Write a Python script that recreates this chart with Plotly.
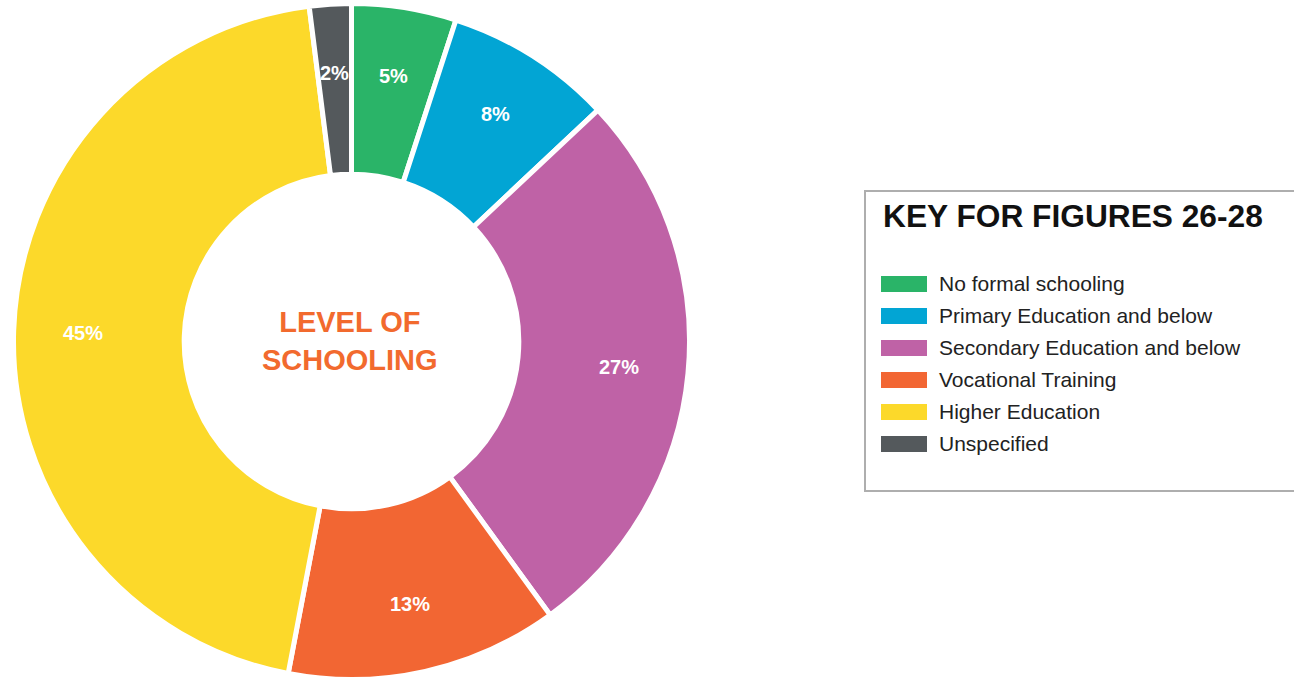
import math
import plotly.graph_objects as go

W, H = 1294, 682

categories = ['No formal schooling', 'Primary Education and below',
              'Secondary Education and below', 'Vocational Training',
              'Higher Education', 'Unspecified']
shares = [5, 8, 27, 13, 45, 2]
colors = ['#2AB468', '#02A5D4', '#BF62A6', '#F26633', '#FCD92A', '#54595C']

legend_title = 'KEY FOR FIGURES 26-28'
center_label = 'LEVEL OF<br>SCHOOLING'

FONT = 'Liberation Sans, Arial, sans-serif'


def px(x):
    return x / W


def py(y):
    return 1 - y / H


# donut geometry in pixels (outer radius includes the white slice border)
cx, cy, r = 351.5, 341.5, 338
label_r = 269
domain = dict(x=[px(cx - r), px(cx + r)], y=[py(cy + r), py(cy - r)])

fig = go.Figure()
fig.add_trace(go.Pie(
    labels=categories,
    values=shares,
    sort=False,
    direction='clockwise',
    rotation=0,
    hole=0.495,
    marker=dict(colors=colors, line=dict(color='white', width=5)),
    textinfo='none',
    domain=domain,
    showlegend=False,
    hoverinfo='label+percent',
))

# percentage labels at the middle angle of each slice
total = sum(shares)
cum = 0
for v in shares:
    mid = (cum + v / 2) / total * 2 * math.pi
    cum += v
    fig.add_annotation(
        x=px(cx + label_r * math.sin(mid)), y=py(cy - label_r * math.cos(mid)),
        xref='paper', yref='paper', xanchor='center', yanchor='middle',
        text=f'{round(100 * v / total)}%', showarrow=False,
        font=dict(family=FONT, size=20, color='white', weight='bold'),
    )

# centre label
fig.add_annotation(
    x=px(350), y=py(341), xref='paper', yref='paper',
    xanchor='center', yanchor='middle',
    text=center_label, showarrow=False,
    font=dict(family=FONT, size=29, color='#F26A2E', weight='bold'),
    align='center',
)

# key box
fig.add_shape(type='rect', xref='paper', yref='paper',
              x0=px(865), x1=px(1310), y0=py(491), y1=py(191),
              line=dict(color='#AEAEAE', width=2), fillcolor='white')
fig.add_annotation(
    x=px(881), y=py(216), xref='paper', yref='paper',
    xanchor='left', yanchor='middle', showarrow=False,
    text=legend_title,
    font=dict(family=FONT, size=31.7, color='#111111', weight='bold'),
)
row_y0, row_gap = 284, 32
for i, (name, col) in enumerate(zip(categories, colors)):
    yc = row_y0 + i * row_gap
    fig.add_shape(type='rect', xref='paper', yref='paper',
                  x0=px(881), x1=px(927), y0=py(yc + 8), y1=py(yc - 8),
                  line=dict(width=0), fillcolor=col)
    fig.add_annotation(
        x=px(937), y=py(yc - 0.5), xref='paper', yref='paper',
        xanchor='left', yanchor='middle', showarrow=False,
        text=name,
        font=dict(family=FONT, size=21, color='#222222'),
    )

fig.update_layout(
    width=W, height=H,
    margin=dict(l=0, r=0, t=0, b=0),
    paper_bgcolor='white',
    plot_bgcolor='white',
    showlegend=False,
)

# drop the browser's default body margin so the figure sits at the page origin
fig.write_html('out.html', config={'displayModeBar': False},
               post_script="document.body.style.margin = '0';")
